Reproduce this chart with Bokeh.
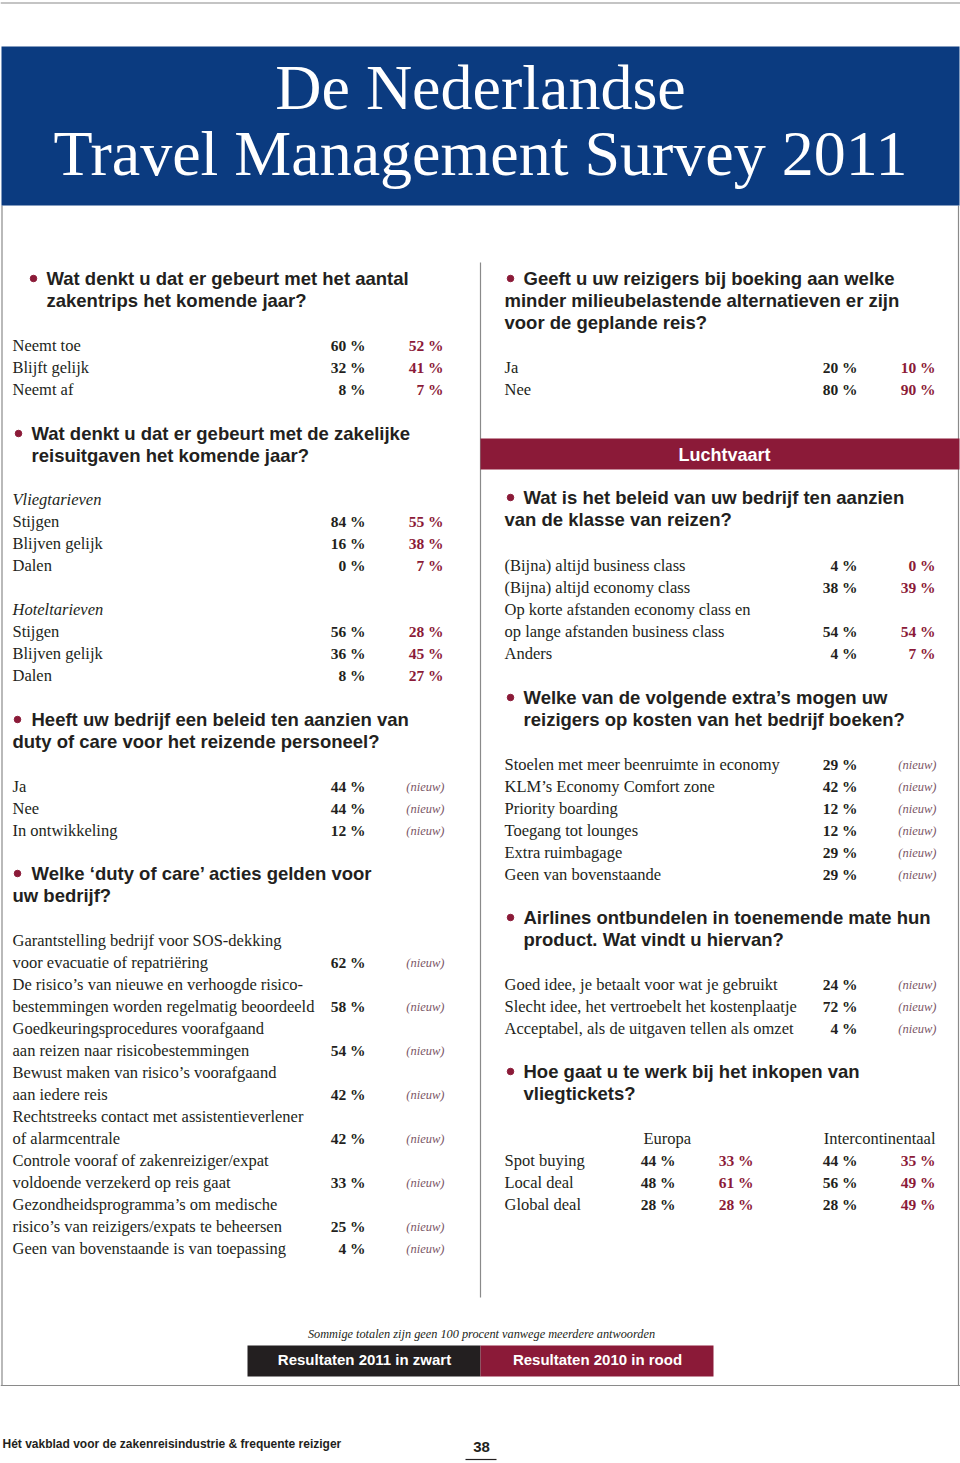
from bokeh.plotting import figure
from bokeh.models import ColumnDataSource, Range1d
from bokeh.core.properties import value
from bokeh.embed import file_html
from bokeh.resources import INLINE

# ---------------- data ----------------
title_lines = ["De Nederlandse", "Travel Management Survey 2011"]

q_trips = ["Wat denkt u dat er gebeurt met het aantal", "zakentrips het komende jaar?"]
trips_labels = ["Neemt toe", "Blijft gelijk", "Neemt af"]
trips_2011 = [60, 32, 8]
trips_2010 = [52, 41, 7]

q_spend = ["Wat denkt u dat er gebeurt met de zakelijke", "reisuitgaven het komende jaar?"]
air_header = "Vliegtarieven"
air_labels = ["Stijgen", "Blijven gelijk", "Dalen"]
air_2011 = [84, 16, 0]
air_2010 = [55, 38, 7]
hotel_header = "Hoteltarieven"
hotel_labels = ["Stijgen", "Blijven gelijk", "Dalen"]
hotel_2011 = [56, 36, 8]
hotel_2010 = [28, 45, 27]

q_duty = ["Heeft uw bedrijf een beleid ten aanzien van", "duty of care voor het reizende personeel?"]
duty_labels = ["Ja", "Nee", "In ontwikkeling"]
duty_2011 = [44, 44, 12]

q_actions = ["Welke \u2018duty of care\u2019 acties gelden voor", "uw bedrijf?"]
actions_labels = [
    "Garantstelling bedrijf voor SOS-dekking\nvoor evacuatie of repatri\u00ebring",
    "De risico\u2019s van nieuwe en verhoogde risico-\nbestemmingen worden regelmatig beoordeeld",
    "Goedkeuringsprocedures voorafgaand\naan reizen naar risicobestemmingen",
    "Bewust maken van risico\u2019s voorafgaand\naan iedere reis",
    "Rechtstreeks contact met assistentieverlener\nof alarmcentrale",
    "Controle vooraf of zakenreiziger/expat\nvoldoende verzekerd op reis gaat",
    "Gezondheidsprogramma\u2019s om medische\nrisico\u2019s van reizigers/expats te beheersen",
    "Geen van bovenstaande is van toepassing",
]
actions_2011 = [62, 58, 54, 42, 42, 33, 25, 4]

q_green = ["Geeft u uw reizigers bij boeking aan welke",
           "minder milieubelastende alternatieven er zijn",
           "voor de geplande reis?"]
green_labels = ["Ja", "Nee"]
green_2011 = [20, 80]
green_2010 = [10, 90]

section_air = "Luchtvaart"
q_class = ["Wat is het beleid van uw bedrijf ten aanzien", "van de klasse van reizen?"]
class_labels = ["(Bijna) altijd business class", "(Bijna) altijd economy class",
                "Op korte afstanden economy class en\nop lange afstanden business class", "Anders"]
class_2011 = [4, 38, 54, 4]
class_2010 = [0, 39, 54, 7]

q_extras = ["Welke van de volgende extra\u2019s mogen uw", "reizigers op kosten van het bedrijf boeken?"]
extras_labels = ["Stoelen met meer beenruimte in economy", "KLM\u2019s Economy Comfort zone",
                 "Priority boarding", "Toegang tot lounges", "Extra ruimbagage", "Geen van bovenstaande"]
extras_2011 = [29, 42, 12, 12, 29, 29]

q_unbundle = ["Airlines ontbundelen in toenemende mate hun", "product. Wat vindt u hiervan?"]
unbundle_labels = ["Goed idee, je betaalt voor wat je gebruikt",
                   "Slecht idee, het vertroebelt het kostenplaatje",
                   "Acceptabel, als de uitgaven tellen als omzet"]
unbundle_2011 = [24, 72, 4]

q_buying = ["Hoe gaat u te werk bij het inkopen van", "vliegtickets?"]
buying_groups = ["Europa", "Intercontinentaal"]
buying_labels = ["Spot buying", "Local deal", "Global deal"]
eu_2011 = [44, 48, 28]
eu_2010 = [33, 61, 28]
ic_2011 = [44, 56, 28]
ic_2010 = [35, 49, 49]

note = "Sommige totalen zijn geen 100 procent vanwege meerdere antwoorden"
legend_labels = ["Resultaten 2011 in zwart", "Resultaten 2010 in rood"]
footer = "H\u00e9t vakblad voor de zakenreisindustrie & frequente reiziger"
page_no = "38"
new_tag = "(nieuw)"

# ---------------- style ----------------
BLUE = "#0b3b80"
WINE = "#8b1a38"
INK = "#231f20"
NEWC = "#7b5566"
GRAY = "#8a8a8a"
SERIF = value("Liberation Serif")
SANS = value("Liberation Sans")
LINE = 22
K = 0.33  # baseline correction factor (fraction of font size)

Q_FS, L_FS, V_FS, N_FS = 18.5, 16.5, 15.5, 12.5


def bl(y, fs):
    return y - K * fs


# ---------------- layout collectors ----------------
def coll():
    return dict(x=[], y=[], text=[])

lab = coll(); ital = coll(); v11 = coll(); v10 = coll(); nw = coll(); qs = coll()
bul = dict(x=[], y=[])


def add(d, x, y, t, fs):
    d["x"].append(x); d["y"].append(bl(y, fs)); d["text"].append(t)


def question(lines, y0, bx, x_first, x_rest):
    bul["x"].append(bx); bul["y"].append(y0 - 6)
    for i, t in enumerate(lines):
        add(qs, x_first if i == 0 else x_rest, y0 + i * LINE, t, Q_FS)


def rows(labels, a, b, y0, xl, xv, xr):
    y = y0
    for i, t in enumerate(labels):
        for part in t.split("\n"):
            add(lab, xl, y, part, L_FS)
            y += LINE
        last = y - LINE
        add(v11, xv, last, f"{a[i]} %", V_FS)
        if b is None:
            add(nw, xr + 1, last, new_tag, N_FS)
        else:
            add(v10, xr, last, f"{b[i]} %", V_FS)
    return y


LX, LV, LR = 12, 365, 443
RX, RV, RR = 504, 857, 935

# left column
question(q_trips, 284, 33, 46, 46)
rows(trips_labels, trips_2011, trips_2010, 350, LX, LV, LR)
question(q_spend, 439, 18, 31, 31)
add(ital, LX, 504, air_header, L_FS)
rows(air_labels, air_2011, air_2010, 526, LX, LV, LR)
add(ital, LX, 614, hotel_header, L_FS)
rows(hotel_labels, hotel_2011, hotel_2010, 636, LX, LV, LR)
question(q_duty, 725, 17, 31, 12)
rows(duty_labels, duty_2011, None, 791, LX, LV, LR)
question(q_actions, 879, 17, 31, 12)
rows(actions_labels, actions_2011, None, 945, LX, LV, LR)

# right column
question(q_green, 284, 510, 523, 504)
rows(green_labels, green_2011, green_2010, 372, RX, RV, RR)
question(q_class, 503, 510, 523, 504)
rows(class_labels, class_2011, class_2010, 570, RX, RV, RR)
question(q_extras, 703, 510, 523, 523)
rows(extras_labels, extras_2011, None, 769, RX, RV, RR)
question(q_unbundle, 923, 510, 523, 523)
rows(unbundle_labels, unbundle_2011, None, 989, RX, RV, RR)
question(q_buying, 1077, 510, 523, 523)
for i, t in enumerate(buying_labels):
    yy = 1165 + i * LINE
    add(lab, RX, yy, t, L_FS)
    add(v11, 675, yy, f"{eu_2011[i]} %", V_FS)
    add(v10, 753, yy, f"{eu_2010[i]} %", V_FS)
    add(v11, RV, yy, f"{ic_2011[i]} %", V_FS)
    add(v10, RR, yy, f"{ic_2010[i]} %", V_FS)

# ---------------- figure ----------------
p = figure(width=960, height=1463, x_range=Range1d(0, 960), y_range=Range1d(1463, 0),
           output_backend="svg", toolbar_location=None, min_border=0)
p.axis.visible = False
p.grid.visible = False
p.outline_line_color = None
p.background_fill_color = "white"
p.border_fill_color = "white"

# frame and banner
p.segment(x0=[0, 1.5, 958, 0, 480], y0=[2.5, 205, 205, 1385, 262],
          x1=[960, 1.5, 958, 960, 480], y1=[2.5, 1385, 1385, 1385, 1297],
          line_color=GRAY, line_width=1.2)
p.quad(left=[1], right=[959], top=[46], bottom=[205], fill_color=BLUE, line_color=None)
p.text(x=[480, 480], y=[bl(108, 64), bl(174, 64)], text=title_lines, text_font=SERIF,
       text_font_size=value("64px"), text_color="white", text_align="center",
       text_baseline="alphabetic")

# Luchtvaart band
p.quad(left=[480], right=[959], top=[438], bottom=[469], fill_color=WINE, line_color=None)
p.text(x=[724], y=[bl(460, 18)], text=[section_air], text_font=SANS, text_font_style="bold",
       text_font_size=value("18px"), text_color="white", text_align="center",
       text_baseline="alphabetic")

# body texts
p.scatter(x="x", y="y", source=ColumnDataSource(bul), size=6.5, color=WINE, marker="circle")
p.text(x="x", y="y", text="text", source=ColumnDataSource(qs), text_font=SANS,
       text_font_style="bold", text_font_size=value(f"{Q_FS}px"), text_color=INK,
       text_baseline="alphabetic")
p.text(x="x", y="y", text="text", source=ColumnDataSource(lab), text_font=SERIF,
       text_font_size=value(f"{L_FS}px"), text_color=INK, text_baseline="alphabetic")
p.text(x="x", y="y", text="text", source=ColumnDataSource(ital), text_font=SERIF,
       text_font_style="italic", text_font_size=value(f"{L_FS}px"), text_color=INK,
       text_baseline="alphabetic")
p.text(x="x", y="y", text="text", source=ColumnDataSource(v11), text_font=SERIF,
       text_font_style="bold", text_font_size=value(f"{V_FS}px"), text_color=INK,
       text_align="right", text_baseline="alphabetic")
p.text(x="x", y="y", text="text", source=ColumnDataSource(v10), text_font=SERIF,
       text_font_style="bold", text_font_size=value(f"{V_FS}px"), text_color=WINE,
       text_align="right", text_baseline="alphabetic")
p.text(x="x", y="y", text="text", source=ColumnDataSource(nw), text_font=SERIF,
       text_font_style="italic", text_font_size=value(f"{N_FS}px"), text_color=NEWC,
       text_align="right", text_baseline="alphabetic")
p.text(x=[643], y=[bl(1143, L_FS)], text=[buying_groups[0]], text_font=SERIF,
       text_font_size=value(f"{L_FS}px"), text_color=INK, text_align="left",
       text_baseline="alphabetic")
p.text(x=[935], y=[bl(1143, L_FS)], text=[buying_groups[1]], text_font=SERIF,
       text_font_size=value(f"{L_FS}px"), text_color=INK, text_align="right",
       text_baseline="alphabetic")

# legend strip
p.text(x=[481], y=[bl(1338, 12.3)], text=[note], text_font=SERIF, text_font_style="italic",
       text_font_size=value("12.3px"), text_color=INK, text_align="center",
       text_baseline="alphabetic")
p.quad(left=[247, 480], right=[480, 713], top=[1345, 1345], bottom=[1376, 1376],
       fill_color=[INK, WINE], line_color=None)
p.text(x=[364, 597], y=[bl(1364, 15), bl(1364, 15)], text=legend_labels, text_font=SANS,
       text_font_style="bold", text_font_size=value("15px"), text_color="white",
       text_align="center", text_baseline="alphabetic")

# page footer
p.text(x=[2], y=[bl(1447, 12)], text=[footer], text_font=SANS, text_font_style="bold",
       text_font_size=value("12px"), text_color=INK, text_align="left",
       text_baseline="alphabetic")
p.text(x=[481], y=[bl(1451, 15)], text=[page_no], text_font=SANS, text_font_style="bold",
       text_font_size=value("15px"), text_color=INK, text_align="center",
       text_baseline="alphabetic")
p.segment(x0=[465], y0=[1459], x1=[496], y1=[1459], line_color=INK, line_width=1.2)

open("out.html", "w").write(file_html(p, INLINE))
